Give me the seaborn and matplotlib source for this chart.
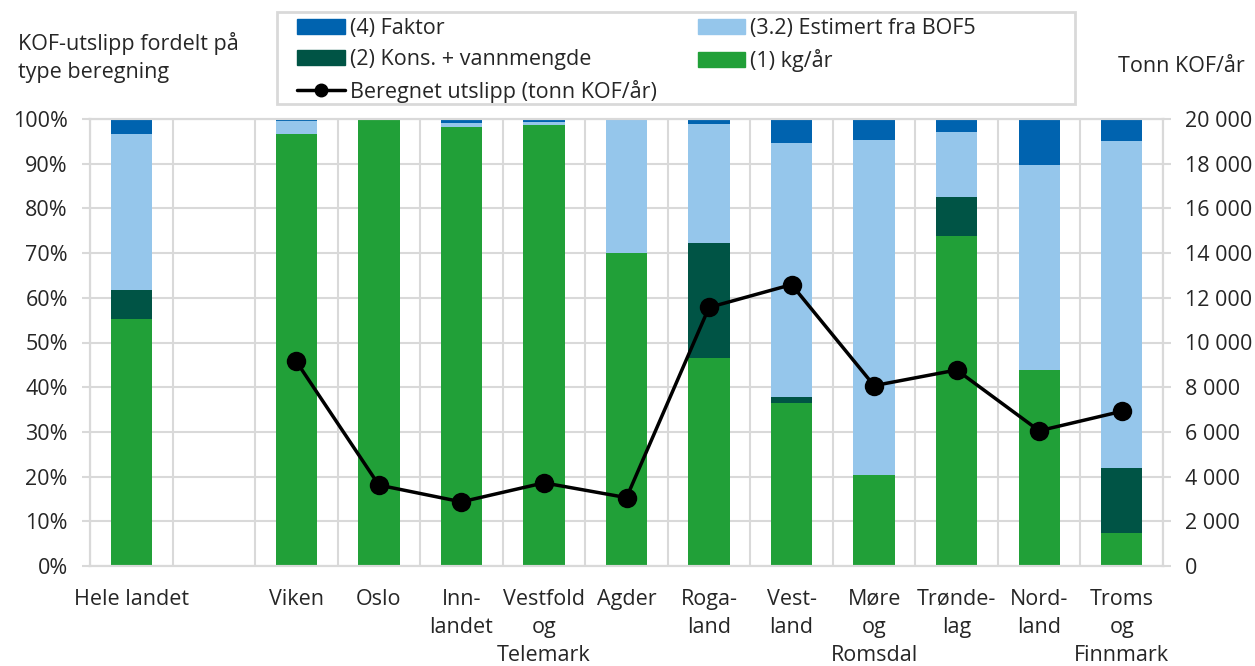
import numpy as np
import pandas as pd
import seaborn as sns
import matplotlib.pyplot as plt
from matplotlib.patches import Patch, Rectangle
from matplotlib.lines import Line2D
from matplotlib.ticker import FixedLocator, FuncFormatter

nan = np.nan

kategorier = ["Hele landet", " ", "Viken", "Oslo", "Innlandet", "Vestfold og Telemark", "Agder",
              "Rogaland", "Vestland", "Møre og Romsdal", "Trøndelag", "Nordland", "Troms og Finnmark"]
etiketter = ["Hele landet", "", "Viken", "Oslo", "Inn-\nlandet", "Vestfold\nog\nTelemark", "Agder",
             "Roga-\nland", "Vest-\nland", "Møre\nog\nRomsdal", "Trønde-\nlag", "Nord-\nland", "Troms\nog\nFinnmark"]

# andel (%) per beregningstype
kg_aar   = [55.3, nan, 96.7, 100.0, 98.1, 98.7, 70.0, 46.5, 36.5, 20.3, 73.8, 43.9, 7.4]
kons     = [6.5,  nan, 0.0,  0.0,   0.0,  0.0,  0.0,  25.8, 1.2,  0.0,  8.7,  0.0,  14.6]
estimert = [34.8, nan, 2.8,  0.0,   0.9,  0.6,  30.0, 26.5, 57.0, 74.9, 14.6, 45.9, 73.1]
faktor   = [3.4,  nan, 0.5,  0.0,   1.0,  0.7,  0.0,  1.2,  5.3,  4.8,  2.9,  10.2, 4.9]

# tonn KOF/år
utslipp = [nan, nan, 9150, 3620, 2870, 3720, 3060, 11570, 12590, 8070, 8770, 6050, 6920]

serier = ["(4) Faktor", "(3.2) Estimert fra BOF5", "(2) Kons. + vannmengde", "(1) kg/år"]
farger = ["#0063AF", "#95C6EB", "#005445", "#21A038"]

df = pd.DataFrame({"kategori": kategorier, "kg": kg_aar, "kons": kons,
                   "est": estimert, "faktor": faktor, "utslipp": utslipp})
df["s1"] = df["kg"]
df["s2"] = df["s1"] + df["kons"]
df["s3"] = df["s2"] + df["est"]
df["s4"] = df["s3"] + df["faktor"]
bars = df.dropna(subset=["kg"])

sns.set_style("white")
plt.rcParams["font.family"] = ["Open Sans", "DejaVu Sans"]
fs = 15.5
grid_c = "#D9D9D9"

fig = plt.figure(figsize=(12.55, 6.66), dpi=100)
ax = fig.add_axes([90 / 1255, 100 / 666, 1073 / 1255, 447 / 666])

# stablede søyler tegnet som kumulative summer, bakerst først
for col, c in zip(["s4", "s3", "s2", "s1"], farger):
    sns.barplot(data=bars, x="kategori", y=col, order=kategorier, color=c,
                width=0.5, saturation=1, errorbar=None, linewidth=0, ax=ax)

ax.set_ylim(0, 100)
ax.set_xlim(-0.5, len(kategorier) - 0.5)
ax.set_yticks(np.arange(0, 101, 10))
ax.yaxis.set_major_formatter(FuncFormatter(lambda v, p: f"{v:.0f}%"))
ax.set_xticks(range(len(kategorier)))
ax.set_xticklabels(etiketter, fontsize=fs, linespacing=1.45, va="top")
ax.xaxis.set_minor_locator(FixedLocator(np.arange(-0.5, len(kategorier), 1.0)))
ax.set_axisbelow(True)
ax.grid(axis="y", which="major", color=grid_c, linewidth=1.5)
ax.grid(axis="x", which="minor", color=grid_c, linewidth=1.5)
ax.tick_params(axis="x", which="both", length=0, pad=16.5)
ax.tick_params(axis="y", labelsize=fs, length=6, width=1.5, color=grid_c, pad=10, left=True)
ax.set_xlabel("")
ax.set_ylabel("")
for s in ax.spines.values():
    s.set_color(grid_c)
    s.set_linewidth(1.5)

ax2 = ax.twinx()
sns.lineplot(data=df, x=np.arange(len(kategorier)), y="utslipp", color="black", linewidth=2.5,
             marker="o", markersize=14, markeredgewidth=0, sort=False, ax=ax2)
ax2.set_ylim(0, 20000)
ax2.set_xlim(-0.5, len(kategorier) - 0.5)
ax2.set_yticks(np.arange(0, 20001, 2000))
ax2.yaxis.set_major_formatter(FuncFormatter(lambda v, p: f"{v:,.0f}".replace(",", " ")))
ax2.tick_params(axis="y", labelsize=fs, length=6, width=1.5, color=grid_c, pad=10, right=True)
ax2.set_ylabel("")
ax2.grid(False)
for s in ax2.spines.values():
    s.set_color(grid_c)
    s.set_linewidth(1.5)

fig.text(18 / 1255, 1 - 32 / 666, "KOF-utslipp fordelt på\ntype beregning", fontsize=fs,
         va="top", ha="left", linespacing=1.42)
fig.text(1118 / 1255, 1 - 66 / 666, "Tonn KOF/år", fontsize=fs, va="center", ha="left")

handles = [Patch(color=farger[0]), Patch(color=farger[2]),
           Line2D([], [], color="black", linewidth=2.5, marker="o", markersize=9),
           Patch(color=farger[1]), Patch(color=farger[3])]
labels = [serier[0], serier[2], "Beregnet utslipp (tonn KOF/år)", serier[1], serier[3]]
fig.legend(handles, labels, loc="upper left", bbox_to_anchor=(280 / 1255, 1 - 1 / 666),
           ncol=2, frameon=False, fontsize=fs, handlelength=2.2, handleheight=0.65,
           handletextpad=0.25, columnspacing=1.9, labelspacing=0.45, borderpad=0.3)
fig.patches.append(Rectangle((277 / 1255, 1 - 104 / 666), 798 / 1255, 92 / 666,
                             transform=fig.transFigure, fill=False, edgecolor=grid_c, linewidth=2))

fig.savefig("out.png", dpi=100)
